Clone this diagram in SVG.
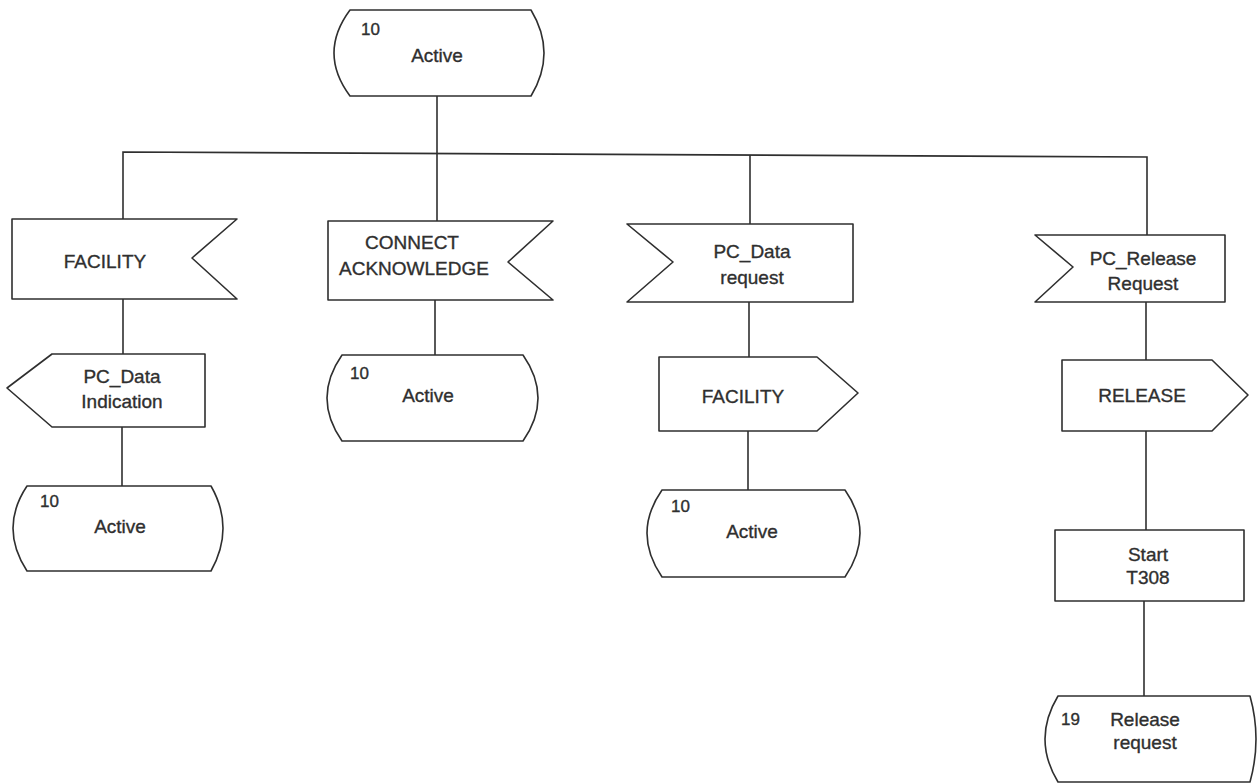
<svg xmlns="http://www.w3.org/2000/svg" width="1257" height="784" viewBox="0 0 1257 784">
  <style>
    .shape { fill: #ffffff; stroke: #2f2f2f; stroke-width: 1.6; stroke-linejoin: round; }
    .wire { fill: none; stroke: #2f2f2f; stroke-width: 1.6; }
    .lbl { font-family: "Liberation Sans", Arial, sans-serif; font-size: 19px; fill: #2f2f2f; stroke: #2f2f2f; stroke-width: 0.35; text-anchor: middle; }
    .num { font-family: "Liberation Sans", Arial, sans-serif; font-size: 17px; fill: #2f2f2f; stroke: #2f2f2f; stroke-width: 0.35; }
  </style>
  <rect width="1257" height="784" fill="#ffffff"/>

  <!-- connectors -->
  <g id="connectors" class="wire">
    <path d="M437 96 V154"/>
    <path d="M123 219 V152 L1147 157 V235"/>
    <path d="M437 154 V221"/>
    <path d="M750 155 V224"/>
    <path d="M123 299 V354"/>
    <path d="M122 427 V486"/>
    <path d="M435 300 V355"/>
    <path d="M749 302 V357"/>
    <path d="M748 431 V490"/>
    <path d="M1146 302 V360"/>
    <path d="M1146 431 V530"/>
    <path d="M1144 601 V696"/>
  </g>

  <!-- state 10 Active (start) -->
  <g id="state-top">
    <path class="shape" d="M350 10 H531 Q557 53 531 96 H350 Q318 53 350 10 Z"/>
    <text class="num" x="361" y="35">10</text>
    <text class="lbl" x="437" y="62">Active</text>
  </g>

  <!-- input FACILITY -->
  <g id="in-facility">
    <path class="shape" d="M12 219 H237 L192 258 L237 299 H12 Z"/>
    <text class="lbl" x="105" y="268">FACILITY</text>
  </g>

  <!-- output PC_Data Indication -->
  <g id="out-pcdata-ind">
    <path class="shape" d="M52 354 H205 V427 H52 L7 388 Z"/>
    <text class="lbl" x="122" y="383">PC_Data</text>
    <text class="lbl" x="122" y="408">Indication</text>
  </g>

  <!-- state 10 Active (left) -->
  <g id="state-left">
    <path class="shape" d="M27 486 H211 Q235 528 211 571 H27 Q-1 528 27 486 Z"/>
    <text class="num" x="40" y="507">10</text>
    <text class="lbl" x="120" y="533">Active</text>
  </g>

  <!-- input CONNECT ACKNOWLEDGE -->
  <g id="in-connect-ack">
    <path class="shape" d="M328 221 H553 L508 262 L553 300 H328 Z"/>
    <text class="lbl" x="412" y="249">CONNECT</text>
    <text class="lbl" x="414" y="275">ACKNOWLEDGE</text>
  </g>

  <!-- state 10 Active (centre) -->
  <g id="state-centre">
    <path class="shape" d="M342 355 H523 Q553 398 523 441 H342 Q312 398 342 355 Z"/>
    <text class="num" x="350" y="379">10</text>
    <text class="lbl" x="428" y="402">Active</text>
  </g>

  <!-- input PC_Data request -->
  <g id="in-pcdata-req">
    <path class="shape" d="M627 224 H853 V302 H627 L673 262 Z"/>
    <text class="lbl" x="752" y="258">PC_Data</text>
    <text class="lbl" x="752" y="284">request</text>
  </g>

  <!-- output FACILITY -->
  <g id="out-facility">
    <path class="shape" d="M659 357 H817 L858 393 L817 431 H659 Z"/>
    <text class="lbl" x="743" y="403">FACILITY</text>
  </g>

  <!-- state 10 Active (right-centre) -->
  <g id="state-rc">
    <path class="shape" d="M662 490 H845 Q875 533 845 577 H662 Q632 533 662 490 Z"/>
    <text class="num" x="671" y="512">10</text>
    <text class="lbl" x="752" y="538">Active</text>
  </g>

  <!-- input PC_Release Request -->
  <g id="in-pcrelease-req">
    <path class="shape" d="M1035 235 H1225 V302 H1035 L1073 267 Z"/>
    <text class="lbl" x="1143" y="265">PC_Release</text>
    <text class="lbl" x="1143" y="290">Request</text>
  </g>

  <!-- output RELEASE -->
  <g id="out-release">
    <path class="shape" d="M1062 360 H1212 L1248 395 L1212 431 H1062 Z"/>
    <text class="lbl" x="1142" y="402">RELEASE</text>
  </g>

  <!-- task Start T308 -->
  <g id="task-start-t308">
    <rect class="shape" x="1055" y="530" width="189" height="71"/>
    <text class="lbl" x="1148" y="561">Start</text>
    <text class="lbl" x="1148" y="584">T308</text>
  </g>

  <!-- state 19 Release request -->
  <g id="state-19">
    <path class="shape" d="M1058 696 H1250 Q1262 739 1250 782 H1058 Q1032 739 1058 696 Z"/>
    <text class="num" x="1061" y="725">19</text>
    <text class="lbl" x="1145" y="726">Release</text>
    <text class="lbl" x="1145" y="749">request</text>
  </g>
</svg>
